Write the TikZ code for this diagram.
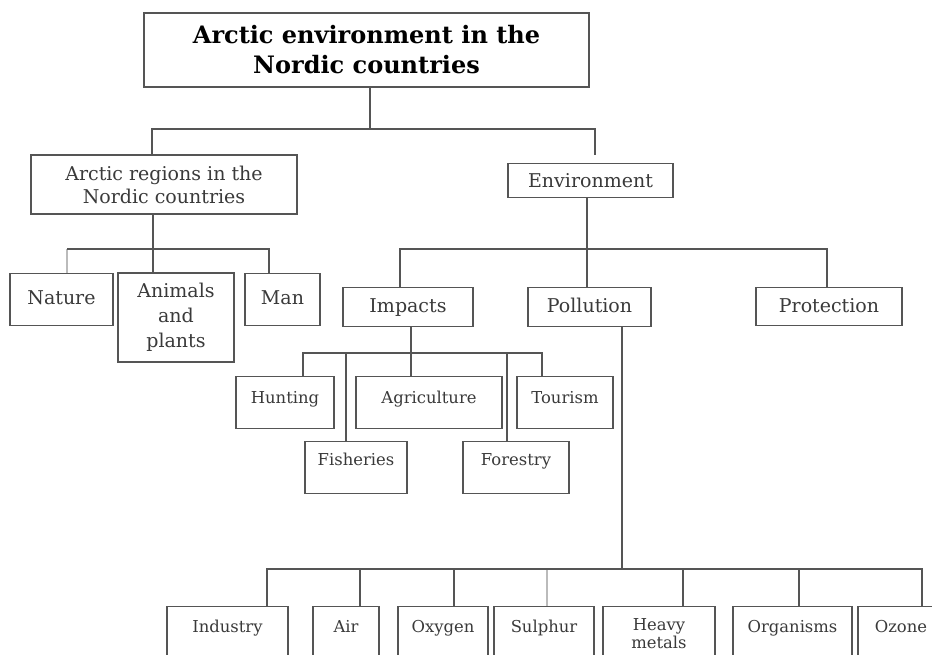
\documentclass[tikz,border=0pt]{standalone}
\usepackage{fontspec}
\setmainfont{DejaVu Serif}
\usetikzlibrary{calc}
\definecolor{linec}{HTML}{555555}
\definecolor{lightc}{HTML}{BBBBBB}
\definecolor{txtc}{HTML}{3A3A3A}
\tikzset{
  box/.style={draw=linec, line width=1.3pt, inner sep=0pt, text=txtc, anchor=north},
  big/.style={font=\fontsize{19}{23}\selectfont},
  small/.style={font=\fontsize{16.4}{17}\selectfont},
  conn/.style={draw=linec, line width=1.2pt},
  connlight/.style={draw=lightc, line width=1.2pt},
}
\begin{document}
\begin{tikzpicture}[x=1pt,y=-1pt]
\clip (0,0) rectangle (932,655);
\fill[white] (0,0) rectangle (932,655);
% title
\node[box, anchor=center, text=black, minimum width=445pt, minimum height=74pt, align=center,
  font=\fontsize{24}{30}\selectfont\bfseries] (title) at (366.5,50) {Arctic environment in the\\Nordic countries};
% level 1
\node[box, big, anchor=center, minimum width=266pt, minimum height=59pt, align=center] (arctic) at (164,184.5) {Arctic regions in the\\Nordic countries};
\node[box, big, minimum width=165pt, text height=24pt, text depth=10pt] (env) at (590.5,163) {Environment};
% level 2 left
\node[box, big, minimum width=103pt, text height=31pt, text depth=21pt] (nature) at (61.5,273) {Nature};
\node[box, anchor=center, minimum width=116pt, minimum height=89pt, align=center, font=\fontsize{19}{25}\selectfont] (animals) at (176,317.5) {Animals\\and\\plants};
\node[box, big, minimum width=75pt, text height=31pt, text depth=21pt] (man) at (282.5,273) {Man};
% level 2 right
\node[box, big, minimum width=130pt, text height=25pt, text depth=14pt] (impacts) at (408,287) {Impacts};
\node[box, big, minimum width=123pt, text height=25pt, text depth=14pt] (pollution) at (589.5,287) {Pollution};
\node[box, big, minimum width=146pt, text height=25pt, text depth=13pt] (protection) at (829,287) {Protection};
% impacts children
\node[box, small, minimum width=98pt, text height=27pt, text depth=25pt] (hunting) at (285,376) {Hunting};
\node[box, small, minimum width=146pt, text height=27pt, text depth=25pt] (agri) at (429,376) {Agriculture};
\node[box, small, minimum width=96pt, text height=27pt, text depth=25pt] (tourism) at (565,376) {Tourism};
\node[box, small, minimum width=102pt, text height=24pt, text depth=28pt] (fish) at (356,441) {Fisheries};
\node[box, small, minimum width=106pt, text height=24pt, text depth=28pt] (forest) at (516,441) {Forestry};
% pollution children
\node[box, small, minimum width=121pt, text height=26pt, text depth=80pt] (industry) at (227.5,606) {Industry};
\node[box, small, minimum width=66pt, text height=26pt, text depth=80pt] (air) at (346,606) {Air};
\node[box, small, minimum width=90pt, text height=26pt, text depth=80pt] (oxygen) at (443,606) {Oxygen};
\node[box, small, minimum width=100pt, text height=26pt, text depth=80pt] (sulphur) at (544,606) {Sulphur};
\node[box, small, minimum width=112pt, text height=24pt, text depth=80pt] (heavy) at (659,606) {\begin{tabular}[t]{@{}c@{}}Heavy\\metals\end{tabular}};
\node[box, small, minimum width=119pt, text height=26pt, text depth=80pt] (organisms) at (792.5,606) {Organisms};
\node[box, small, minimum width=86pt, text height=26pt, text depth=80pt] (ozone) at (901,606) {Ozone};
% bus levels
\coordinate (bus0) at (0,129);
\coordinate (bus1) at (0,249);
\coordinate (bus2) at (0,249);
\coordinate (bus3) at (0,353);
\coordinate (bus4) at (0,569);
% title connectors
\coordinate (titout) at ([xshift=3.5pt]title.south);
\coordinate (arcin) at ([xshift=-12pt]arctic.north);
\coordinate (envin) at ([xshift=4.5pt,yshift=8pt]env.north);
\draw[conn] (titout) -- (titout |- bus0);
\draw[conn] (arcin) |- (envin |- bus0) -- (envin);
% arctic connectors
\coordinate (arcout) at ([xshift=-11pt]arctic.south);
\coordinate (aniin) at ([xshift=-23pt]animals.north);
\coordinate (natin) at ([xshift=5.5pt]nature.north);
\coordinate (manin) at ([xshift=-13.5pt]man.north);
\draw[conn] (arcout) -- (aniin);
\draw[connlight] (natin |- bus1) -- (natin);
\draw[conn] (natin |- bus1) -| (manin);
% environment connectors
\coordinate (envout) at ([xshift=-3.5pt]env.south);
\coordinate (polin) at ([xshift=-2.5pt]pollution.north);
\coordinate (impin) at ([xshift=-8pt]impacts.north);
\coordinate (protin) at ([xshift=-2pt]protection.north);
\draw[conn] (envout) -- (polin);
\draw[conn] (impin) |- (protin |- bus2) -- (protin);
% impacts connectors
\coordinate (impout) at ([xshift=3pt]impacts.south);
\coordinate (agrin) at ([xshift=-18pt]agri.north);
\coordinate (huntin) at ([xshift=18pt]hunting.north);
\coordinate (tourin) at ([xshift=-23pt]tourism.north);
\coordinate (fishin) at ([xshift=-10pt]fish.north);
\coordinate (forin) at ([xshift=-9pt]forest.north);
\draw[conn] (impout) -- (agrin);
\draw[conn] (huntin) |- (tourin |- bus3) -- (tourin);
\draw[conn] (fishin |- bus3) -- (fishin);
\draw[conn] (forin |- bus3) -- (forin);
% pollution connectors
\coordinate (polout) at ([xshift=32.5pt]pollution.south);
\coordinate (indin) at ([xshift=39.5pt]industry.north);
\coordinate (airin) at ([xshift=14pt]air.north);
\coordinate (oxin) at ([xshift=11pt]oxygen.north);
\coordinate (sulin) at ([xshift=3pt]sulphur.north);
\coordinate (heavin) at ([xshift=24pt]heavy.north);
\coordinate (orgin) at ([xshift=6.5pt]organisms.north);
\coordinate (ozin) at ([xshift=21pt]ozone.north);
\draw[conn] (polout) -- (polout |- bus4);
\draw[connlight] (sulin |- bus4) -- (sulin);
\draw[conn] (indin) |- (ozin |- bus4) -- (ozin);
\draw[conn] (airin |- bus4) -- (airin);
\draw[conn] (oxin |- bus4) -- (oxin);
\draw[conn] (heavin |- bus4) -- (heavin);
\draw[conn] (orgin |- bus4) -- (orgin);
\end{tikzpicture}
\end{document}
